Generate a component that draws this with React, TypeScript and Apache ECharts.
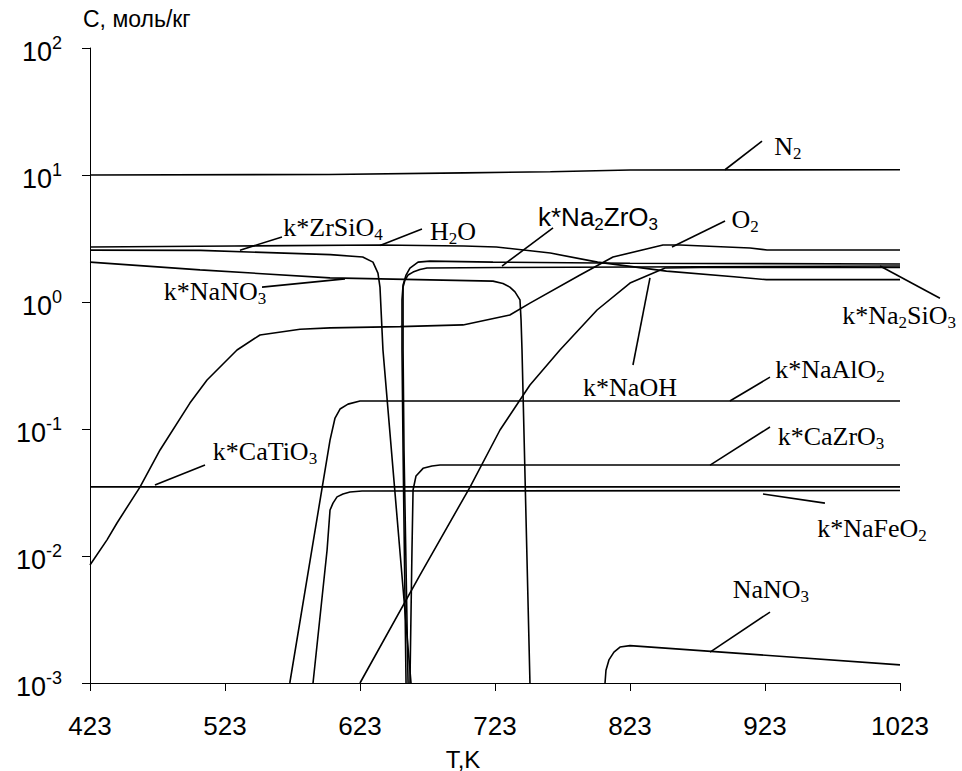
import React, { useEffect, useRef } from "react";
import * as echarts from "echarts";

type P = [number, number];

// ---- axes ----
const xMin = 423;
const xMax = 1023;
const xStep = 100;
const yMin = 0.001;
const yMax = 100;

// ---- series (T, K ; C, mol/kg) ----
const N2: P[] = [[423, 10], [600, 10.1], [700, 10.4], [764, 10.6], [823, 10.95], [1023, 11]];
const H2O: P[] = [[423, 2.71], [530, 2.76], [638, 2.81], [700, 2.76], [724, 2.71], [764, 2.43], [799, 2.06], [850, 1.75], [900, 1.58], [924, 1.5], [1023, 1.5]];
const kZrSiO4: P[] = [[423, 2.56], [505, 2.55], [601, 2.36], [625, 2.26], [632.6, 2.06], [636.3, 1.69], [637.8, 1.31], [640, 0.42], [660.8, 0.001]];
const kNaNO3: P[] = [[423, 2.06], [504.5, 1.79], [600.8, 1.55], [721.5, 1.46], [728.9, 1.4], [734, 1.31], [737.8, 1.2], [741.5, 1.04], [742.3, 0.72], [743, 0.42], [748.9, 0.001]];
const O2: P[] = [[423, 0.0085], [435.6, 0.0134], [443, 0.0182], [460, 0.0349], [474.9, 0.0684], [497, 0.16], [509.7, 0.243], [531.9, 0.419], [548.9, 0.55], [578.6, 0.61], [600.8, 0.625], [652.6, 0.64], [699.3, 0.66], [734, 0.79], [748.9, 0.98], [786, 1.63], [810.4, 2.26], [847.4, 2.81], [860, 2.81], [911.9, 2.66], [924.5, 2.57], [1023, 2.57]];
const kNa2ZrO3: P[] = [[657.1, 0.001], [654.9, 0.068], [654.1, 0.42], [654.1, 1.04], [654.9, 1.36], [657.1, 1.63], [660, 1.85], [666, 2.06], [674.8, 2.1], [721.5, 2.06], [823, 2.02], [1023, 1.99]];
const kNa2SiO3: P[] = [[658.6, 0.001], [655.6, 0.068], [654.9, 0.42], [654.9, 1.31], [656.3, 1.49], [658.6, 1.63], [662.3, 1.72], [667.4, 1.8], [672.6, 1.85], [726.7, 1.87], [1023, 1.92]];
const kNaOH: P[] = [[623, 0.001], [667.4, 0.00708], [704.5, 0.0349], [726.7, 0.0982], [748.9, 0.222], [771.1, 0.419], [798.6, 0.865], [823, 1.41], [849, 1.85], [875, 1.87], [1023, 1.87]];
const kNaAlO2: P[] = [[571, 0.001], [600.8, 0.0818], [604.5, 0.122], [608.2, 0.1436], [614.1, 0.157], [623, 0.166], [1023, 0.166]];
const kCaZrO3: P[] = [[660, 0.001], [661.5, 0.0111], [662.3, 0.0331], [664.5, 0.0427], [669.7, 0.049], [676.3, 0.0512], [682.3, 0.052], [1023, 0.052]];
const kNaFeO2: P[] = [[588.2, 0.001], [598.6, 0.0111], [600.8, 0.023], [603, 0.0261], [606, 0.0292], [610.4, 0.0308], [615.6, 0.0319], [624.5, 0.0325], [1023, 0.0328]];
const kCaTiO3: P[] = [[423, 0.035], [1023, 0.035]];
const NaNO3: P[] = [[804.5, 0.001], [805.2, 0.00126], [807.4, 0.00152], [811.1, 0.00175], [815.6, 0.00192], [823, 0.00197], [1023, 0.00139]];

const seriesData: P[][] = [N2, H2O, kZrSiO4, kNaNO3, O2, kNa2ZrO3, kNa2SiO3, kNaOH, kNaAlO2, kCaZrO3, kNaFeO2, kCaTiO3, NaNO3];

// ---- annotations: text parts [text, isSubscript], label centre, leader line (data coords) ----
type Ann = { parts: [string, number][]; sans?: boolean; at: P; from: P; to: P };
const annotations: Ann[] = [
  { parts: [["N", 0], ["2", 1]], at: [940, 16.9], from: [893.4, 11.0], to: [920.8, 18.5] },
  { parts: [["k*ZrSiO", 0], ["4", 1]], at: [603, 3.83], from: [534.1, 2.56], to: [565.2, 3.25] },
  { parts: [["H", 0], ["2", 1], ["O", 0]], at: [691.9, 3.62], from: [637.8, 2.78], to: [668.9, 3.76] },
  { parts: [["k*Na", 0], ["2", 1], ["ZrO", 0], ["3", 1]], sans: true, at: [799.3, 4.66], from: [728.2, 1.92], to: [766, 3.83] },
  { parts: [["O", 0], ["2", 1]], at: [908.2, 4.43], from: [854.1, 2.71], to: [893.4, 4.35] },
  { parts: [["k*Na", 0], ["2", 1], ["SiO", 0], ["3", 1]], at: [1022.3, 0.79], from: [1008.2, 1.92], to: [1052.6, 1.07] },
  { parts: [["k*NaNO", 0], ["3", 1]], at: [515.6, 1.2], from: [550.4, 1.31], to: [611.9, 1.52] },
  { parts: [["k*NaOH", 0]], at: [823, 0.214], from: [825.2, 0.319], to: [837.8, 1.55] },
  { parts: [["k*NaAlO", 0], ["2", 1]], at: [971.1, 0.292], from: [897, 0.166], to: [926.7, 0.256] },
  { parts: [["k*CaZrO", 0], ["3", 1]], at: [971.9, 0.0865], from: [882.3, 0.052], to: [926.7, 0.1037] },
  { parts: [["k*NaFeO", 0], ["2", 1]], at: [1002.3, 0.0166], from: [921.5, 0.0308], to: [967.4, 0.0261] },
  { parts: [["k*CaTiO", 0], ["3", 1]], at: [552.6, 0.0671], from: [471.1, 0.0362], to: [508.2, 0.0521] },
  { parts: [["NaNO", 0], ["3", 1]], at: [927.4, 0.00549], from: [882.3, 0.00175], to: [926.7, 0.00362] },
];

const SANS = "'Liberation Sans', Arial, sans-serif";
const SERIF = "'Liberation Serif', 'Times New Roman', serif";
const LW = 1.6;

function richText(parts: [string, number][]) {
  return parts.map(([t, s]) => `{${s ? "s" : "a"}|${t}}`).join("");
}

export default function App() {
  const ref = useRef<HTMLDivElement>(null);
  useEffect(() => {
    const chart = echarts.init(ref.current!, null, { renderer: "svg" });
    const option: any = {
      animation: false,
      backgroundColor: "#fff",
      grid: { left: 90, right: 62, top: 48, bottom: 88, containLabel: false, outerBoundsMode: "none" },
      xAxis: {
        type: "value",
        min: xMin,
        max: xMax,
        interval: xStep,
        axisLine: { show: true, lineStyle: { color: "#000", width: 1 } },
        axisTick: { show: true, length: 8, inside: false, lineStyle: { color: "#000", width: 1 } },
        splitLine: { show: false },
        axisLabel: { color: "#000", fontSize: 26, fontFamily: SANS, margin: 30, formatter: (v: number) => String(Math.round(v)) },
        name: "T,K",
        nameLocation: "middle",
        nameGap: 64,
        nameTextStyle: { color: "#000", fontSize: 24, fontFamily: SANS, padding: [0, 64, 0, 0] },
      },
      yAxis: {
        type: "log",
        logBase: 10,
        min: yMin,
        max: yMax,
        axisLine: { show: true, lineStyle: { color: "#000", width: 1 } },
        axisTick: { show: true, length: 8, inside: false, lineStyle: { color: "#000", width: 1 } },
        minorTick: { show: false },
        splitLine: { show: false },
        axisLabel: {
          margin: 28,
          formatter: (v: number) => `{b|10}{s|${Math.round(Math.log10(v))}}`,
          rich: {
            b: { fontSize: 27, fontFamily: SANS, color: "#000", lineHeight: 27, padding: [8, 0, 0, 0] },
            s: { fontSize: 18, fontFamily: SANS, color: "#000", lineHeight: 18, padding: [0, 0, 10, 0] },
          },
        },
      },
      series: seriesData.map((d) => ({
        type: "line",
        data: d,
        showSymbol: false,
        symbol: "none",
        clip: true,
        lineStyle: { color: "#000", width: LW },
        emphasis: { disabled: true },
      })),
    };
    chart.setOption(option);

    const toPx = (p: P) => chart.convertToPixel({ gridIndex: 0 }, p) as number[];
    const elements: any[] = [
      {
        type: "text",
        left: 83,
        top: 7,
        style: { text: "С, моль/кг", fontSize: 23, fontFamily: SANS, fill: "#000" },
      },
    ];
    annotations.forEach((a) => {
      const f = toPx(a.from);
      const t = toPx(a.to);
      const c = toPx(a.at);
      elements.push({
        type: "line",
        shape: { x1: f[0], y1: f[1], x2: t[0], y2: t[1] },
        style: { stroke: "#000", lineWidth: LW },
      });
      const fam = a.sans ? SANS : SERIF;
      elements.push({
        type: "text",
        x: c[0],
        y: c[1],
        style: {
          text: richText(a.parts),
          align: "center",
          verticalAlign: "middle",
          fill: "#000",
          fontSize: 26,
          fontFamily: fam,
          rich: {
            a: { fontSize: 26, fontFamily: fam, fill: "#000", lineHeight: 26 },
            s: { fontSize: 17, fontFamily: fam, fill: "#000", lineHeight: 17, padding: [14, 0, 0, 0] },
          },
        },
      });
    });
    chart.setOption({ graphic: elements });
    return () => chart.dispose();
  }, []);
  return (
    <div
      ref={ref}
      style={{ position: "fixed", left: 0, top: 0, width: 962, height: 771, background: "#fff" }}
    />
  );
}
